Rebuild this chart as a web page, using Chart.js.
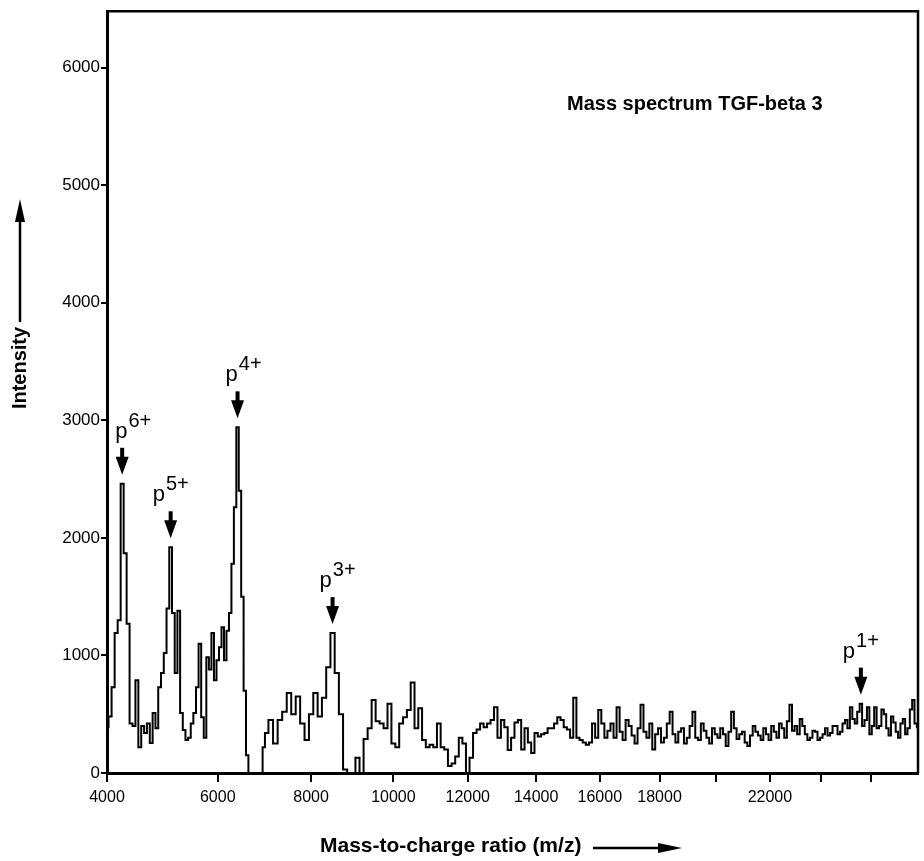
<!DOCTYPE html>
<html>
<head>
<meta charset="utf-8">
<title>Mass spectrum TGF-beta 3</title>
<script src="https://cdn.jsdelivr.net/npm/chart.js@4.4.1/dist/chart.umd.min.js"></script>
<style>
  html, body { margin: 0; padding: 0; background: #fff; }
  #wrap { width: 924px; height: 861px; }
</style>
</head>
<body>
<div id="wrap"><canvas id="chart" width="924" height="861"></canvas></div>
<script>
// m/z sampling of the trace (finer where the peaks are)
const MZ_LOW = [
  4000, 4050, 4100, 4150, 4200, 4250, 4300, 4350, 4400, 4450,
  4500, 4550, 4600, 4650, 4700, 4750, 4800, 4850, 4900, 4950,
  5000, 5050, 5100, 5150, 5200, 5250, 5300, 5350, 5400, 5450,
  5500, 5550, 5600, 5650, 5700, 5750, 5800, 5850, 5900, 5950,
  6000, 6050, 6100, 6150, 6200, 6250, 6300, 6350, 6400, 6450,
  6500, 6550, 6600, 6650, 6700, 6750, 6800, 6850, 6900, 6950,
  7000,
];
const INT_LOW = [
  390, 480, 730, 1190, 1300, 2460, 1870, 1270, 420, 400,
  790, 220, 400, 340, 420, 255, 510, 380, 730, 850,
  1020, 1400, 1920, 1360, 850, 1380, 510, 365, 280, 300,
  420, 510, 730, 1100, 475, 300, 985, 880, 1190, 790,
  960, 1070, 1240, 960, 1210, 1360, 1780, 2260, 2940, 2400,
  1500, 700, 150, 0, 0, 0, 0, 0, 0, 220,
  340,
];

const MZ_MID = [
  7100, 7200, 7300, 7400, 7500, 7600, 7700, 7800, 7900, 8000,
  8100, 8200, 8300, 8400, 8500, 8600, 8700, 8800, 8900, 9000,
  9100, 9200, 9300, 9400, 9500, 9600, 9700, 9800, 9900, 10000,
  10100, 10200, 10300, 10400, 10500, 10600, 10700, 10800, 10900, 11000,
  11100, 11200, 11300, 11400, 11500, 11600, 11700, 11800, 11900, 12000,
  12100, 12200, 12300, 12400, 12500, 12600, 12700, 12800, 12900, 13000,
  13100, 13200, 13300, 13400, 13500, 13600, 13700, 13800, 13900, 14000,
  14100, 14200, 14300, 14400, 14500, 14600, 14700, 14800, 14900, 15000,
  15100, 15200, 15300, 15400, 15500, 15600, 15700, 15800, 15900, 16000,
];
const INT_MID = [
  450, 250, 450, 520, 680, 500, 650, 420, 280, 500,
  680, 480, 640, 900, 1190, 850, 500, 30, 0, 0,
  130, 0, 290, 380, 620, 440, 420, 380, 590, 250,
  220, 420, 475, 535, 770, 380, 550, 280, 220, 240,
  220, 420, 220, 200, 60, 80, 140, 300, 250, 0,
  130, 340, 370, 420, 390, 420, 450, 560, 300, 450,
  390, 195, 300, 430, 450, 200, 380, 260, 170, 340,
  310, 330, 340, 380, 380, 420, 475, 450, 390, 370,
  300, 640, 300, 280, 260, 240, 260, 420, 300, 535,
];

const MZ_HIGH = [
  16100, 16200, 16300, 16400, 16500, 16600, 16700, 16800, 16900, 17000,
  17100, 17200, 17300, 17400, 17500, 17600, 17700, 17800, 17900, 18000,
  18100, 18200, 18300, 18400, 18500, 18600, 18700, 18800, 18900, 19000,
  19100, 19200, 19300, 19400, 19500, 19600, 19700, 19800, 19900, 20000,
  20100, 20200, 20300, 20400, 20500, 20600, 20700, 20800, 20900, 21000,
  21100, 21200, 21300, 21400, 21500, 21600, 21700, 21800, 21900, 22000,
  22100, 22200, 22300, 22400, 22500, 22600, 22700, 22800, 22900, 23000,
  23100, 23200, 23300, 23400, 23500, 23600, 23700, 23800, 23900, 24000,
  24100, 24200, 24300, 24400, 24500, 24600, 24700, 24800, 24900, 25000,
  25100, 25200, 25300, 25400, 25500, 25600, 25700, 25800, 25900, 26000,
  26100, 26200, 26300, 26400, 26500, 26600, 26700, 26800, 26900, 27000,
  27100, 27200, 27300, 27400, 27500, 27600, 27700, 27800, 27900, 28000,
];
const INT_HIGH = [
  420, 300, 360, 420, 300, 560, 350, 280, 450, 400,
  320, 250, 380, 580, 350, 300, 420, 200, 330, 380,
  260, 300, 420, 520, 330, 260, 350, 380, 250, 300,
  400, 520, 300, 280, 420, 360, 300, 250, 380, 330,
  300, 380, 330, 230, 350, 520, 380, 290, 330, 350,
  260, 230, 320, 400, 350, 320, 280, 380, 330, 280,
  400, 350, 300, 420, 380, 300, 440, 580, 360, 400,
  330, 460, 400, 330, 280, 300, 360, 350, 280, 300,
  330, 380, 320, 340, 400, 400, 330, 350, 420, 450,
  380, 560, 460, 420, 520, 590, 400, 450, 560, 330,
  400, 560, 380, 400, 540, 500, 380, 320, 480, 430,
  350, 300, 420, 460, 330, 380, 540, 620, 420, 390,
];

// labelled charge states
const PEAK_CHARGE = ["6+", "5+", "4+", "3+", "1+"];
const PEAK_MZ = [4250, 5100, 6400, 8500, 25600];
const PEAK_INT = [2460, 1920, 2940, 1190, 590];

// axis ticks
const X_TICK_VALUES = [4000, 6000, 8000, 10000, 12000, 14000, 16000, 18000, 20000, 22000, 24000, 26000];
const X_TICK_LABELS = ["4000", "6000", "8000", "10000", "12000", "14000", "16000", "18000", "", "22000", "", ""];
const Y_TICK_VALUES = [0, 1000, 2000, 3000, 4000, 5000, 6000];
const Y_TICK_LABELS = ["0", "1000", "2000", "3000", "4000", "5000", "6000"];

const TITLE = "Mass spectrum TGF-beta 3";
const X_TITLE = "Mass-to-charge ratio (m/z)";
const Y_TITLE = "Intensity";

const FONT = "'Liberation Sans', Arial, sans-serif";
// horizontal shift of each "pN+" label from its arrow
const LABEL_DX = [-7, -18, -12, -13, -18];

// time-of-flight style axis: position grows with sqrt(m/z)
class SqrtScale extends Chart.LinearScale {
  getPixelForValue(value) {
    if (value === null || value === undefined) return NaN;
    const a = Math.sqrt(this.min);
    const b = Math.sqrt(this.max);
    return this.getPixelForDecimal((Math.sqrt(value) - a) / (b - a));
  }
  getValueForPixel(pixel) {
    const a = Math.sqrt(this.min);
    const b = Math.sqrt(this.max);
    const s = a + this.getDecimalForPixel(pixel) * (b - a);
    return s * s;
  }
}
SqrtScale.id = "sqrt";
SqrtScale.defaults = Chart.LinearScale.defaults;
Chart.register(SqrtScale);

function buildPoints() {
  const pts = [];
  [[MZ_LOW, INT_LOW], [MZ_MID, INT_MID], [MZ_HIGH, INT_HIGH]].forEach(([mz, val]) => {
    mz.forEach((m, i) => pts.push({ x: m, y: val[i] }));
  });
  return pts;
}

function downArrow(ctx, x, top, tip) {
  ctx.fillRect(x - 2, top, 4, 11);
  ctx.beginPath();
  ctx.moveTo(x - 6.5, top + 9);
  ctx.lineTo(x + 6.5, top + 9);
  ctx.lineTo(x, tip);
  ctx.closePath();
  ctx.fill();
}

const decorations = {
  id: "decorations",
  afterDraw(chart) {
    const ctx = chart.ctx;
    const area = chart.chartArea;
    const xs = chart.scales.x;
    const ys = chart.scales.y;
    ctx.save();
    ctx.strokeStyle = "#000";
    ctx.fillStyle = "#000";

    // top and right side of the frame
    ctx.lineWidth = 2.5;
    ctx.beginPath();
    ctx.moveTo(area.left, area.top);
    ctx.lineTo(area.right, area.top);
    ctx.lineTo(area.right, area.bottom);
    ctx.stroke();

    // title inside the plot
    ctx.font = "bold 20px " + FONT;
    ctx.textAlign = "left";
    ctx.textBaseline = "alphabetic";
    ctx.fillText(TITLE, 567, 110);

    // peak markers
    PEAK_MZ.forEach((mz, i) => {
      const px = xs.getPixelForValue(mz);
      const py = ys.getPixelForValue(PEAK_INT[i]);
      const tip = py - 9;
      const top = tip - 27;
      downArrow(ctx, px, top, tip);
      const lx = px + LABEL_DX[i];
      const base = top - 10;
      ctx.font = "22px " + FONT;
      ctx.fillText("p", lx, base);
      const w = ctx.measureText("p").width;
      ctx.font = "20px " + FONT;
      ctx.fillText(PEAK_CHARGE[i], lx + w + 1, base - 11);
    });

    // y axis title with arrow
    ctx.save();
    ctx.translate(20, 368);
    ctx.rotate(-Math.PI / 2);
    ctx.font = "bold 20px " + FONT;
    ctx.textAlign = "center";
    ctx.textBaseline = "middle";
    ctx.fillText(Y_TITLE, 0, 0);
    ctx.restore();
    ctx.lineWidth = 2.5;
    ctx.beginPath();
    ctx.moveTo(20, 322);
    ctx.lineTo(20, 215);
    ctx.stroke();
    ctx.beginPath();
    ctx.moveTo(20, 199);
    ctx.lineTo(15, 222);
    ctx.lineTo(25, 222);
    ctx.closePath();
    ctx.fill();

    // x axis title with arrow
    ctx.font = "bold 21px " + FONT;
    ctx.textAlign = "left";
    ctx.textBaseline = "alphabetic";
    ctx.fillText(X_TITLE, 320, 852);
    ctx.beginPath();
    ctx.moveTo(593, 848);
    ctx.lineTo(665, 848);
    ctx.stroke();
    ctx.beginPath();
    ctx.moveTo(682, 848);
    ctx.lineTo(658, 843);
    ctx.lineTo(658, 853);
    ctx.closePath();
    ctx.fill();

    ctx.restore();
  },
};

const ctx = document.getElementById("chart").getContext("2d");
new Chart(ctx, {
  type: "line",
  data: {
    datasets: [
      {
        data: buildPoints(),
        borderColor: "#000",
        borderWidth: 2,
        pointRadius: 0,
        stepped: "middle",
        fill: false,
      },
    ],
  },
  options: {
    responsive: false,
    animation: false,
    devicePixelRatio: 1,
    layout: { padding: { left: 0, right: 6, top: 10, bottom: 0 } },
    plugins: {
      legend: { display: false },
      tooltip: { enabled: false },
    },
    scales: {
      x: {
        type: "sqrt",
        min: 4000,
        max: 28000,
        bounds: "data",
        afterBuildTicks: (s) => {
          s.ticks = X_TICK_VALUES.map((v) => ({ value: v }));
        },
        afterFit: (s) => {
          s.height = 88;
        },
        border: { display: true, color: "#000", width: 3 },
        grid: { drawOnChartArea: false, drawTicks: true, tickLength: 9, color: "#000", lineWidth: 2 },
        ticks: {
          autoSkip: false,
          maxRotation: 0,
          padding: 6,
          color: "#000",
          font: { family: FONT, size: 16 },
          callback: (v, i) => X_TICK_LABELS[i],
        },
      },
      y: {
        type: "linear",
        min: 0,
        max: 6480,
        afterBuildTicks: (s) => {
          s.ticks = Y_TICK_VALUES.map((v) => ({ value: v }));
        },
        afterFit: (s) => {
          s.width = 107;
        },
        border: { display: true, color: "#000", width: 3 },
        grid: { drawOnChartArea: false, drawTicks: true, tickLength: 6, color: "#000", lineWidth: 2 },
        ticks: {
          autoSkip: false,
          padding: 1,
          color: "#000",
          font: { family: FONT, size: 17 },
          callback: (v, i) => Y_TICK_LABELS[i],
        },
      },
    },
  },
  plugins: [decorations],
});
</script>
</body>
</html>
